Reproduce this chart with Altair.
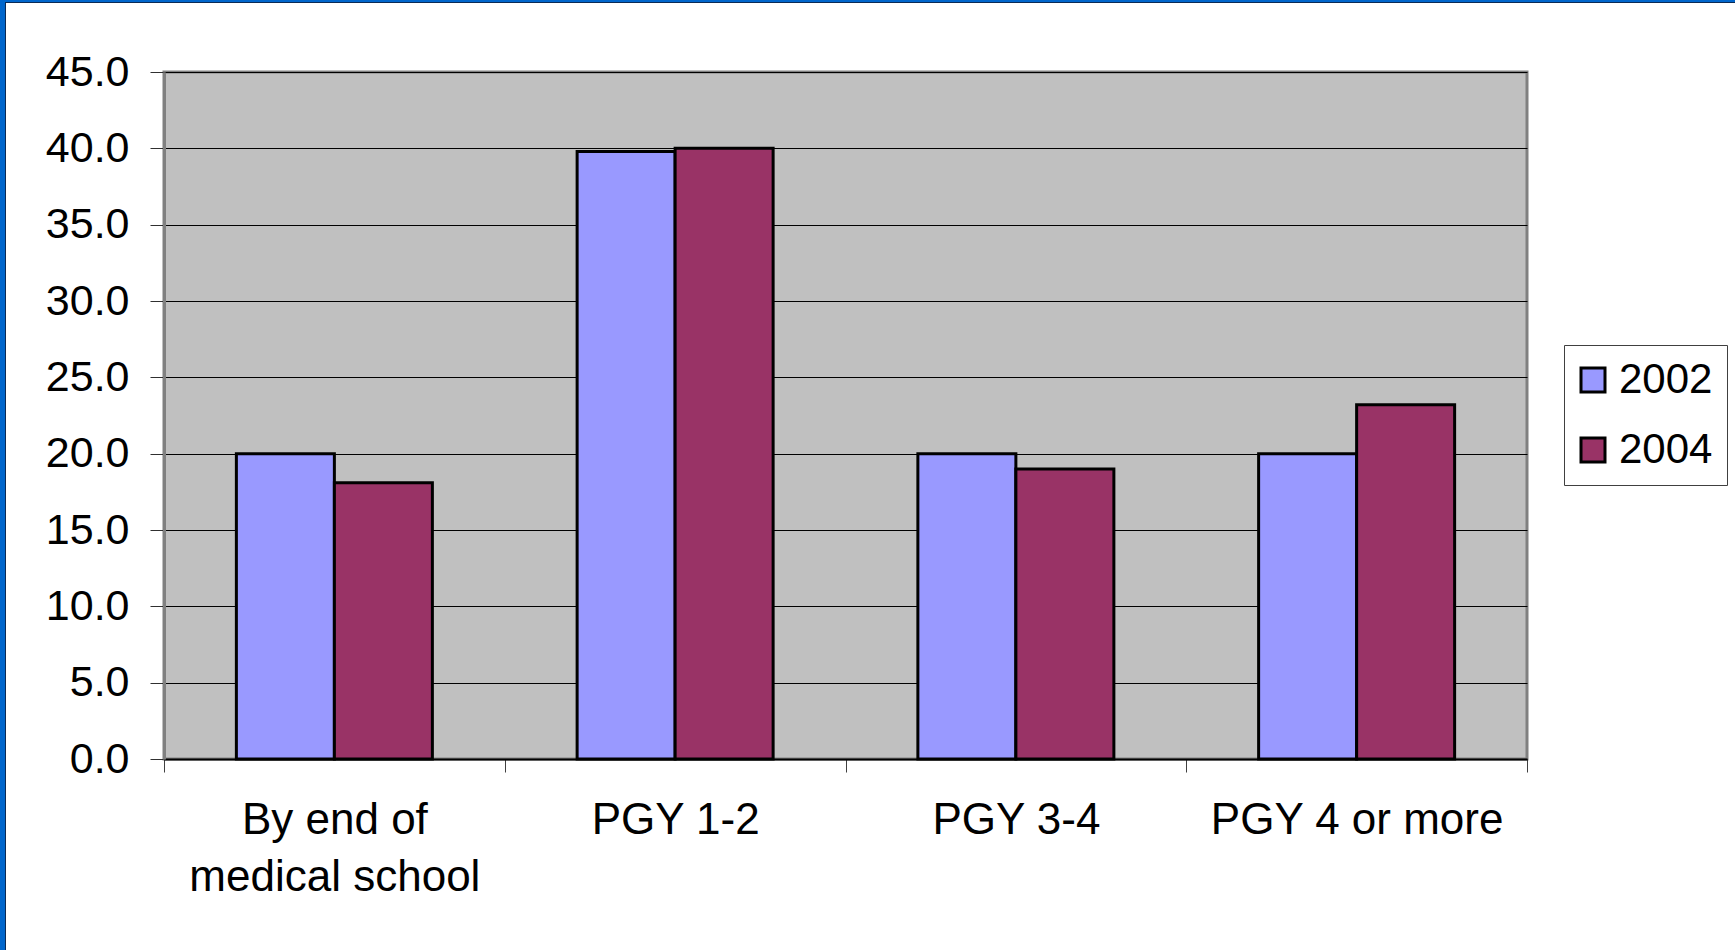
import altair as alt
import pandas as pd

categories = ["By end of medical school", "PGY 1-2", "PGY 3-4", "PGY 4 or more"]
years = ["2002", "2004"]
values_2002 = [20.0, 39.8, 20.0, 20.0]
values_2004 = [18.1, 40.0, 19.0, 23.2]
y_ticks = [0, 5, 10, 15, 20, 25, 30, 35, 40, 45]
colors = ["#9999FF", "#993366"]

rows = []
for c, v in zip(categories, values_2002):
    rows.append({"category": c, "year": "2002", "value": v})
for c, v in zip(categories, values_2004):
    rows.append({"category": c, "year": "2004", "value": v})
df = pd.DataFrame(rows)

FONT = "Liberation Sans"
W, H = 1363, 687
PL, PT = 164, 72

bars = alt.Chart(df).mark_bar(stroke="black", strokeWidth=3).encode(
    x=alt.X(
        "category:N",
        sort=categories,
        scale=alt.Scale(paddingInner=0, paddingOuter=0),
        axis=alt.Axis(
            title=None,
            labelAngle=0,
            labelFont=FONT,
            labelFontSize=44,
            labelColor="black",
            labelLineHeight=57,
            labelPadding=26,
            labelLimit=0,
            labelExpr="datum.value == 'By end of medical school' ? ['By end of', 'medical school'] : datum.label",
            tickBand="extent",
            tickSize=13,
            tickColor="#404040",
            tickWidth=1,
            domainColor="black",
            domainWidth=2,
            grid=False,
        ),
    ),
    xOffset=alt.XOffset(
        "year:N", sort=years,
        scale=alt.Scale(paddingInner=0, paddingOuter=0.7385),
    ),
    y=alt.Y(
        "value:Q",
        scale=alt.Scale(domain=[0, 45], nice=False),
        axis=alt.Axis(
            title=None,
            values=y_ticks,
            format=".1f",
            labelFont=FONT,
            labelFontSize=43,
            labelColor="black",
            labelPadding=21,
            tickSize=14,
            tickColor="#303030",
            tickWidth=1,
            domainColor="#808080",
            domainWidth=3,
            grid=True,
            gridColor="black",
            gridWidth=1,
            gridOpacity=1,
        ),
    ),
    color=alt.Color(
        "year:N",
        scale=alt.Scale(domain=years, range=colors),
        legend=alt.Legend(
            title=None,
            orient="none",
            legendX=1400,
            legendY=273,
            padding=14,
            strokeColor="#404040",
            fillColor="white",
            symbolType="square",
            symbolSize=576,
            symbolStrokeColor="black",
            symbolStrokeWidth=3,
            symbolOpacity=1,
            symbolOffset=-6,
            labelFont=FONT,
            labelFontSize=42,
            labelColor="black",
            labelOffset=5,
            rowPadding=28,
        ),
    ),
)

deco = pd.DataFrame([{"k": 0}])
top_border = alt.Chart(deco).mark_rect(color="#0066CC").encode(
    x=alt.value(-PL), x2=alt.value(1735 - PL), y=alt.value(-PT), y2=alt.value(-PT + 2)
)
top_dark = alt.Chart(deco).mark_rect(color="#0A2A55").encode(
    x=alt.value(-PL + 5), x2=alt.value(1735 - PL), y=alt.value(-PT + 2), y2=alt.value(-PT + 3)
)
left_border = alt.Chart(deco).mark_rect(color="#0066CC").encode(
    x=alt.value(-PL), x2=alt.value(-PL + 5), y=alt.value(-PT), y2=alt.value(950 - PT)
)
left_dark = alt.Chart(deco).mark_rect(color="#0A2A55").encode(
    x=alt.value(-PL + 5), x2=alt.value(-PL + 6), y=alt.value(-PT + 2), y2=alt.value(950 - PT)
)

chart = alt.layer(bars, top_border, top_dark, left_border, left_dark).properties(
    width=W,
    height=H,
    autosize=alt.AutoSizeParams(type="none"),
    padding={"left": PL, "top": PT, "right": 1735 - PL - W, "bottom": 950 - PT - H},
    background="white",
).configure_view(
    fill="#C0C0C0",
    stroke="#808080",
    strokeWidth=3,
)

chart.save("out.html", embed_options={"renderer": "svg", "actions": False})
